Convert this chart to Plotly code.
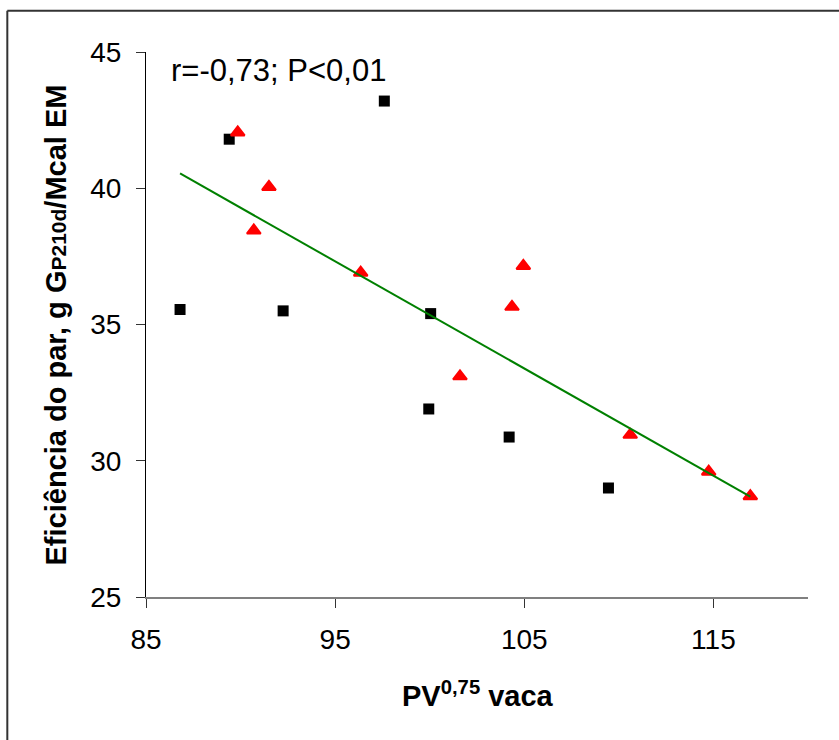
import numpy as np
import plotly.graph_objects as go

# Black squares
black_x = [86.8, 89.4, 92.25, 97.6, 100.05, 99.95, 104.2, 109.45]
black_y = [35.55, 41.8, 35.5, 43.2, 35.4, 31.9, 30.87, 29.0]

# Red triangles
red_x = [89.85, 91.5, 90.7, 96.35, 101.6, 104.35, 104.95, 110.6, 114.75, 116.95]
red_y = [42.05, 40.05, 38.45, 36.9, 33.1, 35.65, 37.15, 30.95, 29.6, 28.7]

x_ticks = [85, 95, 105, 115]
y_ticks = [25, 30, 35, 40, 45]

stat_text = "r=-0,73; P<0,01"
x_title = "<b>PV<sup>0,75</sup> vaca</b>"
y_title = "<b>Eficiência do par, g G<span style=\"font-size:21px\">P210d</span>/Mcal EM</b>"

# Linear regression over all points
all_x = np.array(black_x + red_x)
all_y = np.array(black_y + red_y)
slope, intercept = np.polyfit(all_x, all_y, 1)
line_x = np.array([all_x.min(), all_x.max()])
line_y = intercept + slope * line_x

FONT = "Arial, 'Liberation Sans', sans-serif"

fig = go.Figure()
fig.add_trace(go.Scatter(
    x=black_x, y=black_y, mode="markers",
    marker=dict(symbol="square", size=11, color="black", line=dict(width=0)),
    showlegend=False, hoverinfo="x+y"))
fig.add_trace(go.Scatter(
    x=red_x, y=red_y, mode="markers",
    marker=dict(symbol="triangle-up", size=12, color="#ff0000",
                line=dict(width=2, color="#ff0000")),
    showlegend=False, hoverinfo="x+y"))
fig.add_trace(go.Scatter(
    x=line_x, y=line_y, mode="lines",
    line=dict(color="#008000", width=2),
    showlegend=False, hoverinfo="skip"))

fig.update_layout(
    width=839, height=740,
    margin=dict(l=146, r=31, t=52, b=143),
    paper_bgcolor="white", plot_bgcolor="white",
    font=dict(family=FONT, size=28, color="black"),
    xaxis=dict(range=[85, 120], tickvals=x_ticks, ticks="outside", ticklen=9,
               tickcolor="#333333", tickwidth=1, showline=True, linecolor="#808080",
               linewidth=1.5, showgrid=False, zeroline=False,
               tickfont=dict(size=28, family=FONT), ticklabelstandoff=8),
    yaxis=dict(range=[25, 45], tickvals=y_ticks, ticks="outside", ticklen=9,
               tickcolor="#333333", tickwidth=1, showline=True, linecolor="black",
               linewidth=1, showgrid=False, zeroline=False,
               tickfont=dict(size=28, family=FONT), ticklabelstandoff=9),
    annotations=[
        dict(text=stat_text, xref="paper", yref="paper", x=0.034, y=0.9657,
             xanchor="left", yanchor="middle", showarrow=False,
             font=dict(size=31, family=FONT)),
        dict(text=x_title, xref="paper", yref="paper", x=0.502, y=-0.178,
             xanchor="center", yanchor="middle", showarrow=False,
             font=dict(size=29, family=FONT)),
        dict(text=y_title, xref="paper", yref="paper", x=-0.136, y=0.5,
             xanchor="center", yanchor="middle", showarrow=False, textangle=-90,
             font=dict(size=29, family=FONT)),
    ],
    shapes=[
        dict(type="line", xref="paper", yref="paper", x0=-0.2095, x1=1.1,
             y0=1.0759, y1=1.0759, line=dict(color="#333333", width=2)),
        dict(type="line", xref="paper", yref="paper", x0=-0.2095, x1=-0.2095,
             y0=-0.3, y1=1.0759, line=dict(color="#333333", width=2)),
    ],
)

fig.write_html("out.html", config={"displayModeBar": False},
               post_script="document.body.style.margin='0';")
